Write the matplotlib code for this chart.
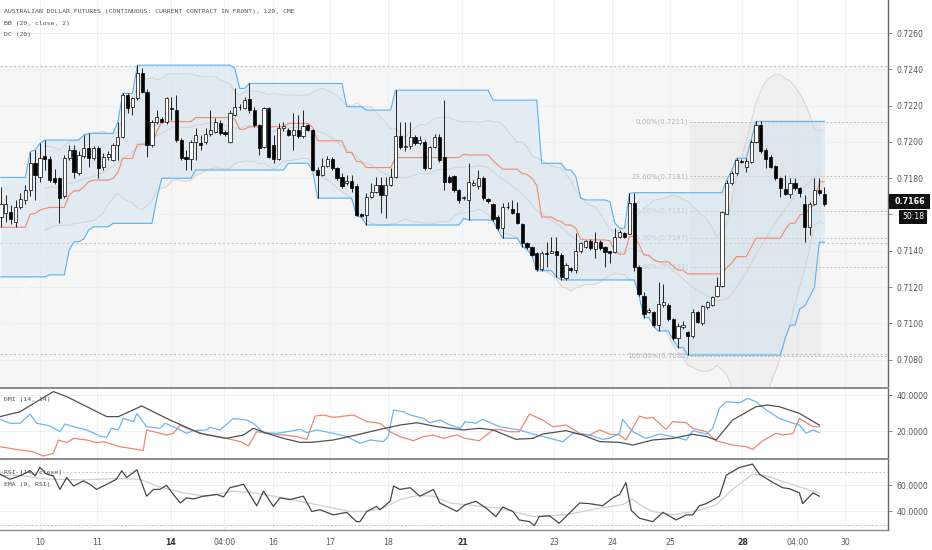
import numpy as np
import pandas as pd
import matplotlib
matplotlib.use("Agg")
import matplotlib.pyplot as plt
from matplotlib.patches import Rectangle

# 2h bars, AUD futures
opens = [
    .71588, .71610, .71615, .71560, .71643, .71680, .71735, .71882, .71808, .71924,
    .71906, .71800, .71800, .71700, .71909, .71955, .71826, .71920, .71964, .71909,
    .71964, .71863, .71918, .71900, .71983, .72028, .72258, .72194, .72240, .72381,
    .72276, .71983, .72111, .72125, .72111, .72185, .72175, .72010, .71915, .71905,
    .72001, .71992, .71999, .72043, .72056, .72105, .72056, .72001, .72148, .72190,
    .72185, .72235, .72175, .72093, .71973, .72185, .71983, .71905, .72074, .72065,
    .72038, .72065, .72032, .72093, .72065, .71845, .71817, .71867, .71905, .71854,
    .71804, .71771, .71786, .71757, .71602, .71597, .71698, .71725, .71762, .71707,
    .71762, .71804, .72032, .71970, .71980, .72028, .71992, .72001, .71855, .71974,
    .72029, .71919, .71809, .71812, .71735, .71690, .71680, .71763, .71758, .71800,
    .71685, .71657, .71588, .71524, .71640, .71630, .71607, .71548, .71441, .71419,
    .71390, .71298, .71390, .71390, .71400, .71377, .71250, .71303, .71294, .71396,
    .71423, .71456, .71410, .71450, .71420, .71398, .71395, .71478, .71496, .71494,
    .71664, .71309, .71152, .71065, .71065, .70991, .71100, .71102, .71023, .70921,
    .70980, .70953, .70930, .71060, .71004, .71088, .71102, .71152, .71208, .71605,
    .71775, .71827, .71896, .71864, .71891, .72002, .72095, .71956, .71919, .71867,
    .71799, .71738, .71712, .71771, .71744, .71660, .71531, .71660, .71734, .71712,
]
highs = [
    .71753, .71707, .71650, .71680, .71720, .71760, .71946, .71955, .71992, .72010,
    .71920, .71850, .71805, .71930, .71983, .71983, .71950, .72038, .72047, .71975,
    .71977, .71940, .71950, .71992, .72111, .72267, .72267, .72250, .72423, .72405,
    .72290, .72120, .72175, .72135, .72249, .72249, .72258, .72020, .71955, .72010,
    .72074, .72038, .72074, .72175, .72130, .72120, .72065, .72175, .72295, .72210,
    .72245, .72322, .72190, .72100, .72194, .72194, .72038, .72102, .72111, .72075,
    .72157, .72148, .72175, .72100, .72070, .71860, .71909, .71920, .71918, .71860,
    .71826, .71817, .71817, .71770, .71610, .71716, .71771, .71808, .71808, .71808,
    .71854, .72285, .72111, .72111, .72111, .72040, .72030, .72010, .71980, .72044,
    .72044, .72230, .71815, .71820, .71740, .71700, .71882, .71790, .71845, .71810,
    .71690, .71662, .71595, .71662, .71671, .71680, .71671, .71555, .71450, .71425,
    .71395, .71400, .71450, .71478, .71478, .71385, .71330, .71310, .71496, .71450,
    .71460, .71465, .71505, .71460, .71425, .71400, .71524, .71515, .71505, .71716,
    .71720, .71320, .71170, .71085, .71070, .71226, .71217, .71110, .71030, .71000,
    .71014, .70960, .71078, .71070, .71100, .71125, .71150, .71254, .71620, .71790,
    .71840, .71910, .71905, .71910, .72010, .72113, .72113, .71965, .71925, .71875,
    .71805, .71818, .71799, .71799, .71750, .71707, .71670, .71799, .71799, .71753,
]
lows = [
    .71533, .71560, .71550, .71532, .71630, .71660, .71700, .71680, .71780, .71845,
    .71780, .71770, .71551, .71690, .71900, .71800, .71820, .71910, .71863, .71900,
    .71800, .71845, .71900, .71895, .71900, .72020, .72157, .72148, .72230, .72270,
    .71918, .71974, .72100, .72105, .72100, .72120, .72000, .71900, .71845, .71845,
    .71900, .71955, .71990, .72030, .72050, .72040, .72030, .71995, .72140, .72175,
    .72180, .72160, .72080, .71927, .71964, .71910, .71882, .71900, .72060, .72030,
    .71955, .72020, .72020, .72060, .71840, .71690, .71810, .71860, .71845, .71790,
    .71744, .71760, .71725, .71590, .71585, .71542, .71690, .71720, .71606, .71578,
    .71755, .71800, .71960, .71950, .71960, .71985, .71985, .71845, .71850, .71965,
    .71890, .71735, .71775, .71725, .71665, .71680, .71570, .71755, .71740, .71680,
    .71665, .71565, .71515, .71469, .71630, .71600, .71550, .71423, .71410, .71370,
    .71290, .71290, .71313, .71385, .71257, .71239, .71240, .71285, .71276, .71390,
    .71415, .71405, .71359, .71405, .71313, .71331, .71390, .71470, .71470, .71490,
    .71291, .71150, .71032, .71055, .70980, .70958, .71090, .71015, .70910, .70866,
    .70970, .70825, .70920, .71000, .70990, .71080, .71095, .71145, .71200, .71600,
    .71765, .71820, .71885, .71836, .71885, .71995, .71940, .71854, .71854, .71790,
    .71697, .71705, .71688, .71735, .71697, .71447, .71485, .71650, .71705, .71645,
]
closes = [
    .71657, .71656, .71573, .71643, .71683, .71735, .71882, .71817, .71909, .71906,
    .71790, .71780, .71690, .71909, .71955, .71836, .71927, .71964, .71909, .71964,
    .71854, .71918, .71931, .71983, .72028, .72258, .72185, .72240, .72381, .72276,
    .71983, .72111, .72135, .72111, .72240, .72180, .72010, .71909, .71905, .72001,
    .72038, .71983, .72043, .72065, .72111, .72047, .72043, .72157, .72194, .72194,
    .72231, .72175, .72093, .71964, .72185, .71918, .71905, .72074, .72087, .72038,
    .72068, .72032, .72087, .72065, .71845, .71817, .71867, .71905, .71854, .71799,
    .71757, .71786, .71744, .71597, .71593, .71698, .71725, .71762, .71707, .71762,
    .71804, .72032, .71973, .71980, .72028, .71992, .72011, .71855, .71974, .72029,
    .71900, .71781, .71781, .71735, .71680, .71695, .71781, .71772, .71800, .71690,
    .71672, .71574, .71524, .71643, .71643, .71607, .71555, .71441, .71419, .71377,
    .71298, .71390, .71383, .71400, .71377, .71257, .71322, .71294, .71400, .71445,
    .71454, .71414, .71450, .71414, .71395, .71386, .71478, .71505, .71478, .71664,
    .71309, .71161, .71051, .71073, .70991, .71106, .71115, .71023, .70921, .70986,
    .70991, .70930, .71065, .71010, .71097, .71115, .71143, .71208, .71614, .71775,
    .71827, .71901, .71890, .71897, .72002, .72095, .71947, .71904, .71864, .71799,
    .71744, .71712, .71775, .71744, .71716, .71531, .71660, .71734, .71716, .71660,
]

# Donchian values already on screen at the left edge (built from earlier bars)
dc_upper_seed = [.71804, .71804, .71804, .71804, .71804, .71804]
dc_lower_seed = [.71256, .71256, .71256, .71256, .71256, .71256, .71256, .71256, .71256, .71256,
                 .71267, .71267, .71267, .71267, .71404, .71450, .71450, .71465, .71514]

# DMI (14, 14): bar position, value
adx_x = [-0.2, 3.9, 10.75, 13.5, 21.7, 24.1, 28.9, 34.7, 40.9, 46.3, 49.8, 51.8, 54.6, 58.0,
         61.4, 63.8, 68.2, 73.0, 77.8, 81.9, 85.4, 89.5, 94.9, 98.2, 101.0, 105.7, 109.2,
         111.2, 116.0, 119.4, 122.9, 127.0, 129.7, 133.8, 137.9, 142.0, 144.8, 146.8, 150.2,
         155.0, 157.4, 159.8, 163.9, 168.0]
adx_v = [28.0, 30.7, 41.9, 39.1, 28.0, 28.0, 33.9, 26.1, 18.7, 15.9, 17.8, 21.5, 18.7, 15.9,
         13.7, 13.7, 15.0, 17.8, 20.9, 23.3, 24.6, 22.4, 20.6, 21.5, 20.6, 15.4, 15.9,
         18.3, 20.2, 17.8, 14.1, 13.7, 12.2, 15.0, 15.9, 18.2, 16.9, 15.0, 26.1,
         33.5, 34.4, 33.5, 29.8, 23.3]
pdi_x = [-0.2, 1.85, 3.9, 6.0, 7.3, 10.1, 12.1, 13.1, 14.9, 17.6, 20.3, 21.7, 22.7, 24.1,
         25.1, 27.2, 27.9, 29.9, 32.6, 33.7, 36.8, 38.1, 39.5, 42.2, 42.9, 45.0, 47.7, 50.4,
         51.8, 53.9, 56.6, 58.7, 61.4, 62.8, 64.8, 68.2, 71.0, 73.7, 75.8, 78.5, 79.5, 80.6,
         82.6, 84.0, 86.7, 88.1, 90.1, 92.2, 94.3, 95.3, 97.5, 98.9, 102.3, 106.4, 109.2,
         111.9, 115.3, 117.4, 120.8, 123.5, 124.9, 127.0, 127.6, 129.7, 132.4, 135.2, 137.9,
         140.7, 142.0, 144.8, 146.1, 147.5, 148.9, 151.6, 153.3, 155.0, 157.1, 159.8, 162.6,
         163.9, 165.3, 166.7, 168.0]
pdi_v = [26.5, 24.3, 24.3, 29.3, 24.3, 22.8, 19.6, 23.9, 22.4, 20.6, 17.2, 16.5, 21.5, 20.6,
         27.0, 25.2, 29.8, 22.4, 21.5, 24.3, 20.6, 18.7, 20.2, 20.6, 22.0, 20.6, 27.0, 26.1,
         24.3, 19.1, 18.7, 19.6, 20.9, 19.1, 20.6, 18.7, 16.9, 13.2, 15.0, 14.1, 16.9, 31.7,
         30.7, 28.9, 27.0, 24.6, 26.1, 23.3, 21.5, 25.2, 24.3, 26.5, 22.4, 20.6, 18.3,
         16.5, 14.1, 18.7, 17.8, 15.4, 15.9, 18.7, 26.5, 19.6, 15.9, 18.3, 16.9,
         15.0, 20.2, 18.3, 21.5, 32.6, 36.3, 35.7, 38.1, 36.3, 31.7, 27.0, 24.3,
         23.3, 18.7, 20.6, 19.1]
mdi_x = [-0.2, 3.9, 6.6, 8.7, 10.75, 11.8, 13.5, 14.9, 17.6, 19.6, 21.0, 24.4, 26.5, 29.2,
         29.9, 34.0, 35.4, 36.8, 38.1, 42.2, 46.3, 49.1, 50.8, 52.5, 54.6, 58.0, 60.7, 62.8,
         64.5, 66.2, 68.2, 72.3, 75.1, 77.8, 79.9, 81.9, 84.7, 86.7, 88.8, 90.8, 93.6, 95.3,
         98.2, 101.0, 102.3, 104.4, 106.4, 107.8, 108.5, 111.2, 113.3, 116.0, 118.8, 120.8,
         122.9, 124.9, 127.0, 128.3, 131.1, 132.4, 133.8, 136.5, 137.9, 140.7, 142.0, 144.8,
         146.8, 150.2, 153.0, 154.3, 156.4, 159.1, 160.5, 162.6, 163.9, 166.7, 168.0]
mdi_v = [11.3, 9.4, 8.5, 6.1, 7.6, 15.0, 13.5, 15.9, 15.0, 13.5, 14.1, 11.3, 10.4, 9.1,
         20.6, 17.8, 18.7, 23.3, 21.5, 17.8, 15.9, 14.1, 11.7, 19.6, 18.7, 17.8, 16.9, 15.4,
         28.3, 28.9, 27.6, 28.9, 25.2, 24.3, 19.6, 16.9, 14.6, 16.9, 17.8, 15.9, 17.8, 15.9,
         14.6, 20.6, 20.9, 19.6, 19.6, 26.1, 29.4, 26.1, 22.4, 23.3, 18.7, 17.8,
         20.6, 18.3, 17.8, 15.0, 28.3, 27.0, 27.6, 20.9, 25.2, 24.6, 21.5, 19.6,
         14.6, 12.2, 11.3, 9.8, 14.6, 18.7, 17.8, 18.7, 27.0, 22.4, 22.4]

rsi_x = [-0.2, 1.85, 3.9, 6.0, 7.0, 8.0, 9.4, 10.75, 12.1, 13.5, 14.9, 16.9, 18.3, 19.6,
         21.7, 23.7, 24.8, 25.8, 27.9, 29.9, 31.3, 32.6, 34.0, 35.4, 36.8, 38.1, 39.5, 41.5,
         44.3, 45.7, 47.0, 49.8, 52.5, 53.9, 55.9, 57.3, 59.3, 60.7, 62.1, 63.8, 65.5, 68.2,
         71.0, 73.0, 73.7, 75.1, 77.1, 77.8, 79.9, 80.6, 81.9, 84.0, 86.0, 88.8, 90.1, 93.6,
         95.3, 97.5, 99.6, 101.6, 103.0, 105.1, 106.4, 108.5, 109.5, 110.5, 112.6, 114.6,
         116.0, 118.8, 120.8, 123.5, 125.6, 127.0, 128.3, 129.4, 131.1, 133.8, 135.9, 138.6,
         140.7, 142.0, 143.4, 144.8, 147.5, 148.9, 151.6, 154.3, 155.7, 158.5, 160.5, 161.9,
         163.9, 164.6, 166.7, 168.0]
rsi_v = [68.6, 64.7, 67.3, 71.2, 67.3, 73.7, 68.6, 67.3, 56.9, 66.0, 59.5, 63.4, 60.8, 56.9,
         60.8, 64.7, 71.2, 66.0, 71.9, 51.7, 56.9, 56.9, 60.0, 53.0, 46.5, 50.4, 49.6, 51.7,
         53.0, 51.2, 58.2, 60.8, 44.4, 55.6, 43.9, 50.4, 49.1, 50.4, 51.7, 40.0, 41.3, 37.4,
         39.3, 32.2, 32.2, 40.0, 43.9, 41.3, 47.8, 59.5, 56.9, 58.2, 51.7, 56.9, 46.5, 40.0,
         45.2, 47.8, 42.6, 36.1, 43.4, 40.0, 33.5, 32.2, 29.1, 36.1, 36.7, 31.0,
         36.1, 46.5, 46.0, 44.4, 50.4, 53.0, 62.1, 40.8, 34.8, 32.2, 39.3, 33.5,
         37.4, 37.4, 44.4, 46.0, 51.7, 67.8, 73.7, 76.3, 68.6, 62.1, 58.2, 57.4,
         54.3, 46.0, 54.3, 51.7]
ema_x = [-0.2, 3.9, 8.0, 10.75, 16.9, 23.7, 28.5, 32.0, 37.4, 42.2, 47.7, 51.8, 58.0, 64.8,
         71.7, 75.1, 78.5, 81.9, 85.4, 88.8, 92.2, 95.3, 102.3, 109.2, 116.0, 122.9, 127.6,
         129.7, 131.1, 133.8, 137.9, 143.4, 146.8, 150.2, 154.3, 157.1, 161.2, 163.9, 166.7,
         168.0]
ema_v = [67.3, 67.8, 65.2, 64.7, 64.2, 65.2, 64.7, 59.5, 54.3, 51.7, 55.6, 54.3, 50.4, 45.2,
         40.0, 40.0, 42.6, 49.1, 52.2, 51.7, 46.5, 45.2, 42.6, 36.1, 37.4, 42.6, 45.2,
         49.6, 45.2, 40.0, 37.4, 40.8, 45.2, 56.9, 68.6, 67.3, 62.1, 59.0, 55.6,
         54.3]

tick_pos = [8.0, 19.7, 34.9, 45.8, 55.9, 67.6, 79.5, 94.7, 113.5, 125.5, 137.4, 152.2, 163.5, 173.3]
tick_labels = ["10", "11", "14", "04:00", "16", "17", "18", "21", "23", "24", "25", "28", "04:00", "30"]
bold_labels = ["14", "21", "28"]

price_ticks = [0.7080, 0.7100, 0.7120, 0.7140, 0.7160, 0.7180, 0.7200, 0.7220, 0.7240, 0.7260]
fib_levels = [0.7211, 0.7181, 0.7162, 0.7147, 0.7131, 0.7082]
fib_pcts = ["0.00%", "23.60%", "38.20%", "50.00%", "61.80%", "100.00%"]
hlines = [0.7242, 0.7144, 0.70833]

o = np.array(opens)
h = np.array(highs)
l = np.array(lows)
c = np.array(closes)
n = len(c)
idx = np.arange(n)
hs, ls, cs = pd.Series(h), pd.Series(l), pd.Series(c)

# Donchian channel (20)
dc_up = hs.rolling(20, min_periods=1).max().to_numpy()
dc_lo = ls.rolling(20, min_periods=1).min().to_numpy()
for i, v in enumerate(dc_upper_seed):
    dc_up[i] = max(dc_up[i], v)
for i, v in enumerate(dc_lower_seed):
    dc_lo[i] = min(dc_lo[i], v)
dc_mid = (dc_up + dc_lo) / 2

# Bollinger (20, 2)
bb_mid = cs.rolling(20, min_periods=10).mean()
bb_sd = cs.rolling(20, min_periods=10).std(ddof=0)
bb_up = bb_mid + 2 * bb_sd
bb_lo = bb_mid - 2 * bb_sd

W, H = 932, 550
fig = plt.figure(figsize=(W / 100, H / 100), dpi=100)
fig.patch.set_facecolor("white")
right = 888 / W
ax = fig.add_axes([0, 1 - 387 / H, right, 387 / H])
ax_d = fig.add_axes([0, 1 - 459 / H, right, 71 / H], sharex=ax)
ax_r = fig.add_axes([0, 1 - 530 / H, right, 71 / H], sharex=ax)

xl = (-0.2, 182.1)
grid_c = "#e9eff5"
axis_c = "#555555"

for a in (ax, ax_d, ax_r):
    a.set_facecolor("white")
    for s in ("left", "top", "bottom"):
        a.spines[s].set_visible(False)
    a.spines["right"].set_color("#666666")
    a.spines["right"].set_linewidth(1.0)
    a.yaxis.tick_right()
    a.tick_params(axis="y", length=3, width=0.6, color="#777777", labelsize=5.6,
                  labelcolor=axis_c, pad=3)
    a.tick_params(axis="x", length=0)
    for t in tick_pos:
        a.axvline(t, color=grid_c, lw=0.6, zorder=0.5)
    a.set_xlim(*xl)

for a in (ax_d, ax_r):
    a.spines["top"].set_visible(True)
    a.spines["top"].set_color("#8a8a8a")
    a.spines["top"].set_linewidth(1.4)
ax_r.spines["bottom"].set_visible(True)
ax_r.spines["bottom"].set_color("#8a8a8a")
ax_r.spines["bottom"].set_linewidth(1.0)

# ---- main price pane
ax.set_ylim(0.70649, 0.72782)
ax.axhspan(0.70649, 0.7242, color="#f6f6f6", lw=0, zorder=0.2)
for p in price_ticks:
    ax.axhline(p, color=grid_c, lw=0.6, zorder=0.5)
ax.set_yticks(price_ticks)
# 0.7160 sits under the last-price tag
ax.set_yticklabels(["" if abs(p - 0.7160) < 1e-6 else f"{p:.4f}" for p in price_ticks])

for p in hlines:
    ax.axhline(p, color="#c4c4c4", lw=0.8, ls=(0, (2, 2)), zorder=0.8)

# fib retracement box
fx0, fx1 = 141.5, 168.3
ax.add_patch(Rectangle((fx0, fib_levels[-1]), fx1 - fx0, fib_levels[0] - fib_levels[-1],
                       facecolor="#000000", alpha=0.035, lw=0, zorder=0.9))
for lv, pct in zip(fib_levels, fib_pcts):
    ax.plot([fx0, xl[1]], [lv, lv], color="#bdbdbd", lw=0.7, ls=(0, (2, 2)), zorder=0.9)
    ax.text(fx0 - 0.4, lv, f"{pct}({lv:.4f})", ha="right", va="center",
            fontsize=5, color="#b3b3b3", zorder=1)

# faint white trend line on the left
ax.plot([-0.2, 16.8], [0.70908, 0.71845], color="white", lw=0.8, ls=(0, (2, 2)), zorder=1)

# Bollinger
ax.fill_between(idx, bb_lo, bb_up, color="#000000", alpha=0.025, lw=0, zorder=1)
for s in (bb_up, bb_mid, bb_lo):
    ax.plot(idx, s, color="#d2d2d2", lw=0.7, zorder=1.2)

# Donchian
ax.fill_between(idx, dc_lo, dc_up, color="#d6e6f3", alpha=0.55, lw=0, zorder=1.1)
ax.plot(idx, dc_up, color="#5eb0ec", lw=0.8, zorder=1.5)
ax.plot(idx, dc_lo, color="#5eb0ec", lw=0.8, zorder=1.5)
ax.plot(idx, dc_mid, color="#ef8a6c", lw=0.8, zorder=1.5)

# candles
ax.vlines(idx, l, h, color="black", lw=0.6, zorder=2)
body_lo = np.minimum(o, c)
body_h = np.maximum(np.abs(c - o), 0.00003)
ax.bar(idx, body_h, bottom=body_lo, width=0.66,
       color=np.where(c >= o, "white", "black"), edgecolor="black", linewidth=0.5, zorder=3)

# ---- DMI pane
ax_d.set_ylim(4.44, 43.9)
for v in (20, 40):
    ax_d.axhline(v, color=grid_c, lw=0.6, zorder=0.5)
ax_d.set_yticks([20, 40])
ax_d.set_yticklabels(["20.0000", "40.0000"])
ax_d.plot(mdi_x, mdi_v, color="#ee8672", lw=0.9)
ax_d.plot(pdi_x, pdi_v, color="#6cb6f2", lw=0.9)
ax_d.plot(adx_x, adx_v, color="#505050", lw=0.9)

# ---- RSI pane
ax_r.set_ylim(25.8, 80.2)
for v in (40, 60):
    ax_r.axhline(v, color=grid_c, lw=0.6, zorder=0.5)
for v in (30, 70):
    ax_r.axhline(v, color="#c4c4c4", lw=0.7, ls=(0, (2, 2)), zorder=0.6)
ax_r.set_yticks([40, 60])
ax_r.set_yticklabels(["40.0000", "60.0000"])
ax_r.plot(ema_x, ema_v, color="#cfcfcf", lw=0.9)
ax_r.plot(rsi_x, rsi_v, color="#474747", lw=0.9)

plt.setp(ax.get_xticklabels(), visible=False)
plt.setp(ax_d.get_xticklabels(), visible=False)
ax_r.set_xticks(tick_pos)
ax_r.set_xticklabels(tick_labels)
ax_r.tick_params(axis="x", labelsize=5.6, labelcolor=axis_c, pad=6)
for t in ax_r.get_xticklabels():
    if t.get_text() in bold_labels:
        t.set_fontweight("bold")
        t.set_color("#333333")
ax_r.set_xlim(*xl)

# legends
mono = dict(family="DejaVu Sans Mono", fontsize=4.65, color="#555555")
fig.text(4 / W, 1 - 12 / H, "AUSTRALIAN DOLLAR FUTURES (CONTINUOUS: CURRENT CONTRACT IN FRONT), 120, CME",
         va="center", ha="left", **mono)
fig.text(4 / W, 1 - 23.5 / H, "BB (20, close, 2)", va="center", ha="left", **mono)
fig.text(4 / W, 1 - 34.5 / H, "DC (20)", va="center", ha="left", **mono)
fig.text(4 / W, 1 - 400 / H, "DMI (14, 14)", va="center", ha="left", **mono)
fig.text(4 / W, 1 - 472.5 / H, "RSI (14, close)", va="center", ha="left", **mono)
fig.text(4 / W, 1 - 484.5 / H, "EMA (9, RSI)", va="center", ha="left", **mono)

# last price tag
fig.patches.append(Rectangle((889 / W, 1 - 209 / H), 41 / W, 15 / H, transform=fig.transFigure,
                             facecolor="#111111", edgecolor="none", zorder=5))
fig.patches.append(Rectangle((899 / W, 1 - 224 / H), 28 / W, 14 / H, transform=fig.transFigure,
                             facecolor="#111111", edgecolor="none", zorder=5))
fig.text(910 / W, 1 - 201.5 / H, "0.7166", ha="center", va="center", fontsize=5.8,
         fontweight="bold", color="white", zorder=6)
fig.text(913 / W, 1 - 216.5 / H, "50:18", ha="center", va="center", fontsize=5.6,
         color="white", zorder=6)

fig.savefig("out.png", dpi=100)
